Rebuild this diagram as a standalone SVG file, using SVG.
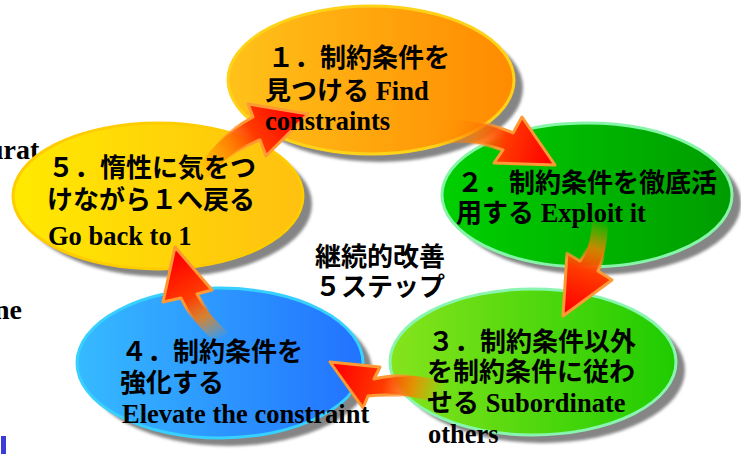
<svg xmlns="http://www.w3.org/2000/svg" width="741" height="454" viewBox="0 0 741 454">
<style>
.jp{font-family:"Noto Sans CJK JP","Noto Sans",sans-serif;font-weight:bold;font-size:26px;fill:#000}
.en{font-family:"Liberation Serif","Times New Roman",serif;font-weight:bold;font-size:26.5px;fill:#000}
.bg{font-family:"Liberation Serif","Times New Roman",serif;font-weight:bold;font-size:28px;fill:#000}
.shadow{fill:#858585;filter:url(#blur)}
.arrowHead{stroke-width:3;stroke-linejoin:round}
</style>
<defs>
<filter id="blur" x="-10%" y="-10%" width="120%" height="120%"><feGaussianBlur stdDeviation="1.5"/></filter>
<linearGradient id="gOrange" x1="0" y1="0" x2="1" y2="0"><stop offset="0" stop-color="#FFC21A"/><stop offset="1" stop-color="#FF8A00"/></linearGradient>
<linearGradient id="gYellow" x1="0" y1="0" x2="1" y2="0"><stop offset="0" stop-color="#FFEA00"/><stop offset="1" stop-color="#FFC010"/></linearGradient>
<linearGradient id="gGreen" x1="0" y1="0" x2="1" y2="0"><stop offset="0" stop-color="#00D000"/><stop offset="1" stop-color="#009C00"/></linearGradient>
<linearGradient id="gLime" x1="0" y1="0" x2="1" y2="0"><stop offset="0" stop-color="#86E41C"/><stop offset="1" stop-color="#1ECC00"/></linearGradient>
<linearGradient id="gBlue" x1="0" y1="0" x2="1" y2="0"><stop offset="0" stop-color="#36BAFF"/><stop offset="1" stop-color="#2272FF"/></linearGradient>
<linearGradient id="a1f" gradientUnits="userSpaceOnUse" x1="198" y1="180" x2="300" y2="118"><stop offset="0" stop-color="#FF9900" stop-opacity="0"/><stop offset="0.35" stop-color="#FF7A00" stop-opacity="0.8"/><stop offset="0.6" stop-color="#FF3A00"/><stop offset="1" stop-color="#FF0000"/></linearGradient>
<linearGradient id="a1s" gradientUnits="userSpaceOnUse" x1="198" y1="180" x2="300" y2="118"><stop offset="0.3" stop-color="#FF9933" stop-opacity="0"/><stop offset="0.55" stop-color="#FF9933"/><stop offset="1" stop-color="#FF9933"/></linearGradient>
<linearGradient id="a2f" gradientUnits="userSpaceOnUse" x1="435" y1="130" x2="550" y2="160"><stop offset="0" stop-color="#FF9900" stop-opacity="0"/><stop offset="0.35" stop-color="#FF7A00" stop-opacity="0.8"/><stop offset="0.6" stop-color="#FF3A00"/><stop offset="1" stop-color="#FF0000"/></linearGradient>
<linearGradient id="a2s" gradientUnits="userSpaceOnUse" x1="435" y1="130" x2="550" y2="160"><stop offset="0.3" stop-color="#FF9933" stop-opacity="0"/><stop offset="0.55" stop-color="#FF9933"/><stop offset="1" stop-color="#FF9933"/></linearGradient>
<linearGradient id="a3f" gradientUnits="userSpaceOnUse" x1="600" y1="220" x2="570" y2="312"><stop offset="0" stop-color="#FF9900" stop-opacity="0"/><stop offset="0.3" stop-color="#FF7A00" stop-opacity="0.8"/><stop offset="0.55" stop-color="#FF3A00"/><stop offset="1" stop-color="#FF0000"/></linearGradient>
<linearGradient id="a3s" gradientUnits="userSpaceOnUse" x1="600" y1="220" x2="570" y2="312"><stop offset="0.3" stop-color="#FF9933" stop-opacity="0"/><stop offset="0.5" stop-color="#FF9933"/><stop offset="1" stop-color="#FF9933"/></linearGradient>
<linearGradient id="a4f" gradientUnits="userSpaceOnUse" x1="445" y1="393" x2="335" y2="366"><stop offset="0" stop-color="#FF9900" stop-opacity="0"/><stop offset="0.3" stop-color="#FF7A00" stop-opacity="0.8"/><stop offset="0.55" stop-color="#FF3A00"/><stop offset="1" stop-color="#FF0000"/></linearGradient>
<linearGradient id="a4s" gradientUnits="userSpaceOnUse" x1="445" y1="393" x2="335" y2="366"><stop offset="0.3" stop-color="#FF9933" stop-opacity="0"/><stop offset="0.5" stop-color="#FF9933"/><stop offset="1" stop-color="#FF9933"/></linearGradient>
<linearGradient id="a5f" gradientUnits="userSpaceOnUse" x1="224" y1="338" x2="178" y2="255"><stop offset="0" stop-color="#FF9900" stop-opacity="0"/><stop offset="0.3" stop-color="#FF7A00" stop-opacity="0.8"/><stop offset="0.55" stop-color="#FF3A00"/><stop offset="1" stop-color="#FF0000"/></linearGradient>
<linearGradient id="a5s" gradientUnits="userSpaceOnUse" x1="224" y1="338" x2="178" y2="255"><stop offset="0.3" stop-color="#FF9933" stop-opacity="0"/><stop offset="0.5" stop-color="#FF9933"/><stop offset="1" stop-color="#FF9933"/></linearGradient>
</defs>
<rect width="741" height="454" fill="#ffffff"/>
<g id="background-text">
<text class="bg" x="-12" y="159">urat</text>
<text class="bg" x="-6" y="319">ne</text>
<rect x="1" y="436" width="5" height="18" fill="#3B3BD9"/>
</g>
<g id="node1">
<ellipse class="shadow" cx="380" cy="88" rx="143" ry="74"/>
<ellipse cx="371" cy="80" rx="143" ry="74" fill="url(#gOrange)" stroke="#FFD21A" stroke-width="3"/>
</g>
<g id="node2">
<ellipse class="shadow" cx="596" cy="203" rx="145" ry="72"/>
<ellipse cx="587" cy="195" rx="145" ry="72" fill="url(#gGreen)" stroke="#86F5A8" stroke-width="3"/>
</g>
<g id="node3">
<ellipse class="shadow" cx="542" cy="370" rx="143" ry="73"/>
<ellipse cx="533" cy="362" rx="143" ry="73" fill="url(#gLime)" stroke="#8AF5B0" stroke-width="3"/>
</g>
<g id="node4">
<ellipse class="shadow" cx="229" cy="371" rx="143" ry="75"/>
<ellipse cx="220" cy="363" rx="143" ry="75" fill="url(#gBlue)" stroke="#38D0FF" stroke-width="3"/>
</g>
<g id="node5">
<ellipse class="shadow" cx="167" cy="204" rx="145" ry="73"/>
<ellipse cx="158" cy="196" rx="145" ry="73" fill="url(#gYellow)" stroke="#FFCC00" stroke-width="3"/>
</g>
<g id="connectors">
<path class="arrowHead" d="M193,176 Q214,138 253,117 L248,104 L308,114 L266,156 L260,140 Q226,153 204,183 Z" fill="url(#a1f)" stroke="url(#a1s)"/>
<path class="arrowHead" d="M435,121 Q480,117 513,133 L522,117 L555,165 L494,163 L503,150 Q470,138 435,146 Z" fill="url(#a2f)" stroke="url(#a2s)"/>
<path class="arrowHead" d="M592,220 Q592,245 580,261 L567,253 L563,316 L612,280 L598,271 Q608,250 608,220 Z" fill="url(#a3f)" stroke="url(#a3s)"/>
<path class="arrowHead" d="M445,381 Q405,371 374,379 L380,367 L330,362 L363,408 L368,396 Q405,392 445,405 Z" fill="url(#a4f)" stroke="url(#a4s)"/>
<path class="arrowHead" d="M214,341 Q192,322 181,298 L163,302 L175,247 L212,290 L197,294 Q208,315 229,333 Z" fill="url(#a5f)" stroke="url(#a5s)"/>
</g>
<g id="labels">
<g id="node1-label">
<text class="jp" x="268" y="67">１．制約条件を</text>
<text x="265" y="100"><tspan class="jp">見つける</tspan><tspan class="en"> Find</tspan></text>
<text class="en" x="265" y="130">constraints</text>
</g>
<g id="node2-label">
<text class="jp" x="457" y="192">２．制約条件を徹底活</text>
<text x="456" y="222"><tspan class="jp">用する</tspan><tspan class="en"> Exploit it</tspan></text>
</g>
<g id="node3-label">
<text class="jp" x="428" y="351">３．制約条件以外</text>
<text class="jp" x="427" y="381">を制約条件に従わ</text>
<text x="427" y="412"><tspan class="jp">せる</tspan><tspan class="en"> Subordinate</tspan></text>
<text class="en" x="428" y="443">others</text>
</g>
<g id="node4-label">
<text class="jp" x="121" y="361">４．制約条件を</text>
<text class="jp" x="120" y="392">強化する</text>
<text class="en" x="122" y="423">Elevate the constraint</text>
</g>
<g id="node5-label">
<text class="jp" x="48" y="177">５．惰性に気をつ</text>
<text class="jp" x="47" y="209">けながら１へ戻る</text>
<text class="en" x="48" y="245">Go back to 1</text>
</g>
<g id="center-label">
<text class="jp" x="315" y="266">継続的改善</text>
<text class="jp" x="315" y="296">５ステップ</text>
</g>
</g>
</svg>
